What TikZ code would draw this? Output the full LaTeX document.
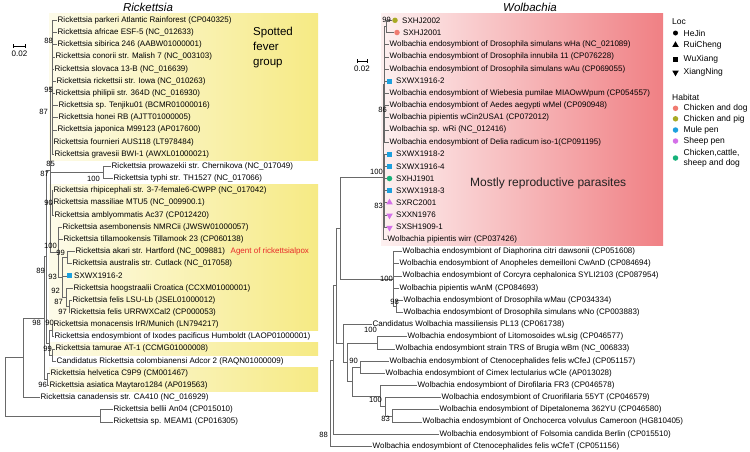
\documentclass[tikz,border=0pt]{standalone}
\usepackage{fontspec}
\setmainfont{Liberation Sans}
\usetikzlibrary{shapes.geometric}
\definecolor{treegray}{RGB}{105,105,105}
\definecolor{ylL}{RGB}{253,251,233}
\definecolor{ylR}{RGB}{246,234,132}
\definecolor{pkL}{RGB}{253,240,240}
\definecolor{pkR}{RGB}{240,128,132}
\definecolor{cdog}{RGB}{240,122,112}
\definecolor{cpig}{RGB}{168,170,36}
\definecolor{cmule}{RGB}{28,160,222}
\definecolor{csheep}{RGB}{212,112,232}
\definecolor{cmix}{RGB}{22,178,122}
\definecolor{agentred}{RGB}{232,40,40}
\newcommand\lfn[4]{\node[leaf] (#1) at (#2,#3) {#4};}
\newcommand\bsn[4]{\node[boot] (#1) at (#2,#3) {#4};}
\begin{document}
\begin{tikzpicture}[x=1pt,y=-1pt,
  leaf/.style={anchor=west,inner sep=0.5pt,font=\fontsize{8}{9}\selectfont},
  boot/.style={anchor=east,inner sep=0pt,font=\fontsize{7.6}{9}\selectfont},
  br/.style={draw=treegray,line width=0.55pt},
  hdr/.style={anchor=west,inner sep=0pt,font=\fontsize{8.5}{10}\selectfont},
  sq/.style={rectangle,inner sep=0pt,minimum size=5pt},
  dot/.style={circle,inner sep=0pt,minimum size=5.5pt},
  tri/.style={regular polygon,regular polygon sides=3,inner sep=0pt,minimum size=7.5pt},
  itri/.style={regular polygon,regular polygon sides=3,shape border rotate=180,inner sep=0pt,minimum size=7.5pt},
]
\useasboundingbox (0,0) rectangle (750,451);
\fill[white] (0,0) rectangle (750,451);
% ---------- background bands ----------
\shade[left color=ylL,right color=ylR] (49,13) rectangle (318,160.5);
\shade[left color=ylL,right color=ylR] (49,184.6) rectangle (318,330.6);
\shade[left color=ylL,right color=ylR] (49,342.8) rectangle (318,355);
\shade[left color=ylL,right color=ylR] (49,367.1) rectangle (318,391.5);
\shade[left color=pkL,right color=pkR] (381,13) rectangle (663,245);
% ---------- titles ----------
\node[font=\fontsize{11.5}{13}\selectfont\itshape] (tR) at (148,7) {Rickettsia};
\node[font=\fontsize{11.5}{13}\selectfont\itshape] (tW) at (530,7) {Wolbachia};
\node[anchor=west,align=left,inner sep=0pt,font=\fontsize{11.5}{15}\selectfont] (sfg) at (253,48) {Spotted\\fever\\group};
\node[anchor=west,inner sep=0pt,font=\fontsize{12}{14}\selectfont,text={rgb,255:red,34;green,34;blue,34}] (mrp) at (470,183) {Mostly reproductive parasites};
\node[leaf,text=agentred] (agent) at (230,251.5) {Agent of rickettsialpox};
% ---------- scale bars ----------
\coordinate (sbR1) at (13.5,46); \coordinate (sbR2) at (25,46);
\draw[line width=0.6pt] (sbR1) -- (sbR2);
\draw[line width=0.6pt] ([yshift=-1.6pt]sbR1) -- ([yshift=1.6pt]sbR1);
\draw[line width=0.6pt] ([yshift=-1.6pt]sbR2) -- ([yshift=1.6pt]sbR2);
\node[leaf,anchor=center] (sbRt) at (19.5,54) {0.02};
\coordinate (sbW1) at (357,61); \coordinate (sbW2) at (367,61);
\draw[line width=0.6pt] (sbW1) -- (sbW2);
\draw[line width=0.6pt] ([yshift=-1.6pt]sbW1) -- ([yshift=1.6pt]sbW1);
\draw[line width=0.6pt] ([yshift=-1.6pt]sbW2) -- ([yshift=1.6pt]sbW2);
\node[leaf,anchor=center] (sbWt) at (362,69) {0.02};
% ---------- Rickettsia leaves ----------
\lfn{r0}{57}{20.3}{Rickettsia parkeri Atlantic Rainforest (CP040325)}
\lfn{r1}{57}{32.5}{Rickettsia africae ESF-5 (NC\_012633)}
\lfn{r2}{57}{44.6}{Rickettsia sibirica 246 (AABW01000001)}
\lfn{r3}{55}{56.8}{Rickettsia conorii str. Malish 7 (NC\_003103)}
\lfn{r4}{54}{69.0}{Rickettsia slovaca 13-B (NC\_016639)}
\lfn{r5}{56}{81.2}{Rickettsia rickettsii str. Iowa (NC\_010263)}
\lfn{r6}{55}{93.3}{Rickettsia philipii str. 364D (NC\_016930)}
\lfn{r7}{58}{105.5}{Rickettsia sp. Tenjiku01 (BCMR01000016)}
\lfn{r8}{58}{117.7}{Rickettsia honei RB (AJTT01000005)}
\lfn{r9}{57}{129.8}{Rickettsia japonica M99123 (AP017600)}
\lfn{r10}{53}{142.0}{Rickettsia fournieri AUS118 (LT978484)}
\lfn{r11}{54}{154.2}{Rickettsia gravesii BWI-1 (AWXL01000021)}
\lfn{r12}{111}{166.3}{Rickettsia prowazekii str. Chernikova (NC\_017049)}
\lfn{r13}{113}{178.5}{Rickettsia typhi str. TH1527 (NC\_017066)}
\lfn{r14}{53}{190.7}{Rickettsia rhipicephali str. 3-7-female6-CWPP (NC\_017042)}
\lfn{r15}{53}{202.9}{Rickettsia massiliae MTU5 (NC\_009900.1)}
\lfn{r16}{54}{215.0}{Rickettsia amblyommatis Ac37 (CP012420)}
\lfn{r17}{62}{227.2}{Rickettsia asembonensis NMRCii (JWSW01000057)}
\lfn{r18}{63}{239.4}{Rickettsia tillamookensis Tillamook 23 (CP060138)}
\lfn{r19}{75}{251.5}{Rickettsia akari str. Hartford (NC\_009881)}
\lfn{r20}{72}{263.7}{Rickettsia australis str. Cutlack (NC\_017058)}
\node[sq,fill=cmule] (r21m) at (69.5,275.9) {};
\lfn{r21}{73.5}{275.9}{SXWX1916-2}
\lfn{r22}{73}{288.0}{Rickettsia hoogstraalii Croatica (CCXM01000001)}
\lfn{r23}{72}{300.2}{Rickettsia felis LSU-Lb (JSEL01000012)}
\lfn{r24}{70}{312.4}{Rickettsia felis URRWXCal2 (CP000053)}
\lfn{r25}{53}{324.6}{Rickettsia monacensis IrR/Munich (LN794217)}
\lfn{r26}{54}{336.7}{Rickettsia endosymbiont of Ixodes pacificus Humboldt (LAOP01000001)}
\lfn{r27}{55}{348.9}{Rickettsia tamurae AT-1 (CCMG01000008)}
\lfn{r28}{56}{361.1}{Candidatus Rickettsia colombianensi Adcor 2 (RAQN01000009)}
\lfn{r29}{50}{373.2}{Rickettsia helvetica C9P9 (CM001467)}
\lfn{r30}{49}{385.4}{Rickettsia asiatica Maytaro1284 (AP019563)}
\lfn{r31}{40}{397.6}{Rickettsia canadensis str. CA410 (NC\_016929)}
\lfn{r32}{113}{409.7}{Rickettsia bellii An04 (CP015010)}
\lfn{r33}{113}{421.9}{Rickettsia sp. MEAM1 (CP016305)}
% ---------- Rickettsia internal nodes ----------
\coordinate (rTop) at (52,87.2);
\coordinate (rTG) at (103,172.4);
\coordinate (rTRG) at (52,202.9);
\coordinate (rAA) at (67,257.6);
\coordinate (rF2) at (69,306.3);
\coordinate (rF) at (66,297.2);
\coordinate (rAK2) at (62,277.4);
\coordinate (rAK) at (58,252.3);
\coordinate (rS1) at (50,169.8);
\coordinate (rM1) at (52,330.6);
\coordinate (rM2) at (52,355.0);
\coordinate (rM) at (49,342.8);
\coordinate (rD) at (46,256.3);
\coordinate (rE) at (47,379.3);
\coordinate (rC) at (44,317.8);
\coordinate (rA) at (23,357.7);
\coordinate (rB) at (100,415.8);
\coordinate (rRoot) at (5,386.8);
\foreach \n in {0,...,11} {\draw[br] (rTop) |- (r\n.west);}
\draw[br] (rTG) |- (r12.west); \draw[br] (rTG) |- (r13.west);
\foreach \n in {14,15,16} {\draw[br] (rTRG) |- (r\n.west);}
\draw[br] (rAA) |- (r19.west); \draw[br] (rAA) |- (r20.west);
\draw[br] (rF2) |- (r23.west); \draw[br] (rF2) |- (r24.west);
\draw[br] (rF) |- (r22.west); \draw[br] (rF) |- (rF2);
\draw[br] (rAK2) |- (rAA); \draw[br] (rAK2) |- (r21m.west); \draw[br] (rAK2) |- (rF);
\draw[br] (rAK) |- (r17.west); \draw[br] (rAK) |- (r18.west); \draw[br] (rAK) |- (rAK2);
\draw[br] (rS1) |- (rTop); \draw[br] (rS1) |- (rTG); \draw[br] (rS1) |- (rTRG); \draw[br] (rS1) |- (rAK);
\draw[br] (rM1) |- (r25.west); \draw[br] (rM1) |- (r26.west);
\draw[br] (rM2) |- (r27.west); \draw[br] (rM2) |- (r28.west);
\draw[br] (rM) |- (rM1); \draw[br] (rM) |- (rM2);
\draw[br] (rD) |- (rS1); \draw[br] (rD) |- (rM);
\draw[br] (rE) |- (r29.west); \draw[br] (rE) |- (r30.west);
\draw[br] (rC) |- (rD); \draw[br] (rC) |- (rE);
\draw[br] (rA) |- (rC); \draw[br] (rA) |- (r31.west);
\draw[br] (rB) |- (r32.west); \draw[br] (rB) |- (r33.west);
\draw[br] (rRoot) |- (rA); \draw[br] (rRoot) |- (rB);
% ---------- Rickettsia bootstrap ----------
\bsn{bR1}{53}{41}{88}
\bsn{bR2}{53}{90}{95}
\bsn{bR3}{48}{112}{87}
\bsn{bR4}{55}{164}{85}
\bsn{bR5}{49}{174}{87}
\bsn{bR6}{100}{178.5}{100}
\bsn{bR7}{53}{203}{90}
\bsn{bR8}{57}{246}{100}
\bsn{bR9}{65}{253}{99}
\bsn{bR10}{45}{271}{89}
\bsn{bR11}{57}{277}{93}
\bsn{bR12}{60}{291}{92}
\bsn{bR13}{63}{302}{87}
\bsn{bR14}{67}{312}{97}
\bsn{bR15}{41}{323}{98}
\bsn{bR16}{54}{323}{90}
\bsn{bR17}{52}{349}{99}
\bsn{bR18}{47}{385}{96}
% ---------- Wolbachia leaves ----------
\node[dot,fill=cpig] (w0m) at (395,20.3) {};
\lfn{w0}{401.5}{20.3}{SXHJ2002}
\node[dot,fill=cdog] (w1m) at (397,32.5) {};
\lfn{w1}{402.5}{32.5}{SXHJ2001}
\lfn{w2}{389}{44.6}{Wolbachia endosymbiont of Drosophila simulans wHa (NC\_021089)}
\lfn{w3}{389}{56.8}{Wolbachia endosymbiont of Drosophila innubila 11 (CP076228)}
\lfn{w4}{389}{69.0}{Wolbachia endosymbiont of Drosophila simulans wAu (CP069055)}
\node[sq,fill=cmule] (w5m) at (389.5,81.2) {};
\lfn{w5}{395.5}{81.2}{SXWX1916-2}
\lfn{w6}{389}{93.3}{Wolbachia endosymbiont of Wiebesia pumilae MIAOwWpum (CP054557)}
\lfn{w7}{389}{105.5}{Wolbachia endosymbiont of Aedes aegypti wMel (CP090948)}
\lfn{w8}{389}{117.7}{Wolbachia pipientis wCin2USA1 (CP072012)}
\lfn{w9}{389}{129.8}{Wolbachia sp. wRi (NC\_012416)}
\lfn{w10}{389}{142.0}{Wolbachia endosymbiont of Delia radicum iso-1(CP091195)}
\node[sq,fill=cmule] (w11m) at (389.5,154.2) {};
\lfn{w11}{395.5}{154.2}{SXWX1918-2}
\node[sq,fill=cmule] (w12m) at (389.5,166.3) {};
\lfn{w12}{395.5}{166.3}{SXWX1916-4}
\node[dot,fill=cmix] (w13m) at (389.5,178.5) {};
\lfn{w13}{395.5}{178.5}{SXHJ1901}
\node[sq,fill=cmule] (w14m) at (389.5,190.7) {};
\lfn{w14}{395.5}{190.7}{SXWX1918-3}
\node[tri,fill=csheep] (w15m) at (389.5,202.4) {};
\lfn{w15}{395.5}{202.9}{SXRC2001}
\node[itri,fill=csheep] (w16m) at (389.5,215.5) {};
\lfn{w16}{395.5}{215.0}{SXXN1976}
\node[itri,fill=csheep] (w17m) at (389.5,227.7) {};
\lfn{w17}{395.5}{227.2}{SXSH1909-1}
\lfn{w18}{387}{239.4}{Wolbachia pipientis wirr (CP037426)}
\lfn{w19}{402}{251.5}{Wolbachia endosymbiont of Diaphorina citri dawsonii (CP051608)}
\lfn{w20}{399}{263.7}{Wolbachia endosymbiont of Anopheles demeilloni CwAnD (CP084694)}
\lfn{w21}{402}{275.9}{Wolbachia endosymbiont of Corcyra cephalonica SYLI2103 (CP087954)}
\lfn{w22}{399}{288.0}{Wolbachia pipientis wAnM (CP084693)}
\lfn{w23}{403}{300.2}{Wolbachia endosymbiont of Drosophila wMau (CP034334)}
\lfn{w24}{403}{312.4}{Wolbachia endosymbiont of Drosophila simulans wNo (CP003883)}
\lfn{w25}{372}{324.6}{Candidatus Wolbachia massiliensis PL13 (CP061738)}
\lfn{w26}{407}{336.7}{Wolbachia endosymbiont of Litomosoides wLsig (CP046577)}
\lfn{w27}{395}{348.9}{Wolbachia endosymbiont strain TRS of Brugia wBm (NC\_006833)}
\lfn{w28}{389}{361.1}{Wolbachia endosymbiont of Ctenocephalides felis wCfeJ (CP051157)}
\lfn{w29}{385}{373.2}{Wolbachia endosymbiont of Cimex lectularius wCle (AP013028)}
\lfn{w30}{417}{385.4}{Wolbachia endosymbiont of Dirofilaria FR3 (CP046578)}
\lfn{w31}{441}{397.6}{Wolbachia endosymbiont of Cruorifilaria 55YT (CP046579)}
\lfn{w32}{439}{409.7}{Wolbachia endosymbiont of Dipetalonema 362YU (CP046580)}
\lfn{w33}{422}{421.9}{Wolbachia endosymbiont of Onchocerca volvulus Cameroon (HG810405)}
\lfn{w34}{439}{434.1}{Wolbachia endosymbiont of Folsomia candida Berlin (CP015510)}
\lfn{w35}{372}{446.3}{Wolbachia endosymbiont of Ctenocephalides felis wCfeT (CP051156)}
% ---------- Wolbachia internal nodes ----------
\coordinate (wA1) at (386,26.4);
\coordinate (wA86) at (384.5,84);
\coordinate (wA83) at (384.5,190);
\coordinate (wAroot) at (383,177);
\coordinate (wB98) at (396,306.3);
\coordinate (wB) at (393,279);
\coordinate (wAB) at (340,228);
\coordinate (wLB) at (377,342.8);
\coordinate (wC90) at (360,367.2);
\coordinate (wD83) at (392,415.8);
\coordinate (wD2) at (385,406.7);
\coordinate (wD100) at (380,396);
\coordinate (wX2) at (352,381.6);
\coordinate (wX) at (347,362.2);
\coordinate (wW) at (343,343.4);
\coordinate (wV) at (336,285.7);
\coordinate (wU) at (333,360);
\coordinate (wRoot) at (330,403);
\draw[br] (wA1) |- (w0m.west); \draw[br] (wA1) |- (w1m.west);
\draw[br] (wA86) |- (wA1);
\foreach \n in {2,3,4,6,7,8,9,10} {\draw[br] (wA86) |- (w\n.west);}
\draw[br] (wA86) |- (w5m.west);
\foreach \n in {11,...,17} {\draw[br] (wA83) |- (w\n m.west);}
\draw[br] (wAroot) |- (wA86); \draw[br] (wAroot) |- (wA83); \draw[br] (wAroot) |- (w18.west);
\draw[br] (wB98) |- (w23.west); \draw[br] (wB98) |- (w24.west);
\foreach \n in {19,20,21,22} {\draw[br] (wB) |- (w\n.west);}
\draw[br] (wB) |- (wB98);
\draw[br] (wAB) |- (wAroot); \draw[br] (wAB) |- (wB);
\draw[br] (wLB) |- (w26.west); \draw[br] (wLB) |- (w27.west);
\draw[br] (wC90) |- (w28.west); \draw[br] (wC90) |- (w29.west);
\draw[br] (wD83) |- (w32.west); \draw[br] (wD83) |- (w33.west);
\draw[br] (wD2) |- (w31.west); \draw[br] (wD2) |- (wD83);
\draw[br] (wD100) |- (w30.west); \draw[br] (wD100) |- (wD2);
\draw[br] (wX2) |- (wC90); \draw[br] (wX2) |- (wD100);
\draw[br] (wX) |- (wLB); \draw[br] (wX) |- (wX2);
\draw[br] (wW) |- (w25.west); \draw[br] (wW) |- (wX);
\draw[br] (wV) |- (wAB); \draw[br] (wV) |- (wW);
\draw[br] (wU) |- (wV); \draw[br] (wU) |- (w34.west);
\draw[br] (wRoot) |- (wU); \draw[br] (wRoot) |- (w35.west);
% ---------- Wolbachia bootstrap ----------
\bsn{bW1}{391}{20}{99}
\bsn{bW2}{387}{110}{86}
\bsn{bW3}{383}{172}{100}
\bsn{bW4}{383}{206}{83}
\bsn{bW5}{393}{279}{100}
\bsn{bW6}{399}{302}{98}
\bsn{bW7}{377}{330}{100}
\bsn{bW8}{358}{361}{90}
\bsn{bW9}{382}{400}{100}
\bsn{bW10}{390}{419}{83}
\bsn{bW11}{328}{435}{88}
% ---------- legend ----------
\node[hdr] (lLoc) at (672,22) {Loc};
\node[dot,fill=black,minimum size=5pt] (lm1) at (675.5,33) {};
\node[hdr] (lt1) at (683.5,33) {HeJin};
\node[tri,fill=black,minimum size=7.5pt] (lm2) at (675.5,45) {};
\node[hdr] (lt2) at (683.5,45.5) {RuiCheng};
\node[sq,fill=black,minimum size=5pt] (lm3) at (675.5,59) {};
\node[hdr] (lt3) at (683.5,59) {WuXiang};
\node[itri,fill=black,minimum size=7.5pt] (lm4) at (675.5,72.5) {};
\node[hdr] (lt4) at (683.5,72) {XiangNing};
\node[hdr] (lHab) at (672,97) {Habitat};
\node[dot,fill=cdog] (lh1) at (675.5,108.3) {};
\node[hdr] (lht1) at (683.5,108.3) {Chicken and dog};
\node[dot,fill=cpig] (lh2) at (675.5,118.8) {};
\node[hdr] (lht2) at (683.5,118.8) {Chicken and pig};
\node[dot,fill=cmule] (lh3) at (675.5,130) {};
\node[hdr] (lht3) at (683.5,130) {Mule pen};
\node[dot,fill=csheep] (lh4) at (675.5,141) {};
\node[hdr] (lht4) at (683.5,141) {Sheep pen};
\node[dot,fill=cmix] (lh5) at (675.5,158) {};
\node[hdr,align=left] (lht5) at (683.5,158) {Chicken,cattle,\\sheep and dog};
\end{tikzpicture}
\end{document}
